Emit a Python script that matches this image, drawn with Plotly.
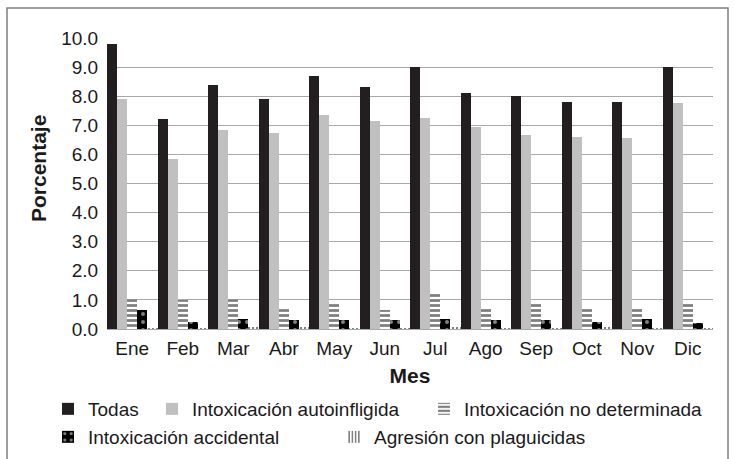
import plotly.graph_objects as go

meses = ["Ene", "Feb", "Mar", "Abr", "May", "Jun", "Jul", "Ago", "Sep", "Oct", "Nov", "Dic"]
todas = [9.8, 7.2, 8.4, 7.9, 8.7, 8.3, 9.0, 8.1, 8.0, 7.8, 7.8, 9.0]
autoinfligida = [7.9, 5.85, 6.85, 6.75, 7.35, 7.15, 7.25, 6.95, 6.65, 6.6, 6.55, 7.75]
no_determinada = [1.05, 1.0, 1.05, 0.7, 0.85, 0.65, 1.2, 0.7, 0.85, 0.7, 0.7, 0.85]
accidental = [0.65, 0.25, 0.35, 0.3, 0.3, 0.3, 0.35, 0.3, 0.3, 0.25, 0.35, 0.2]
agresion = [0.02, 0.01, 0.05, 0.05, 0.02, 0.02, 0.05, 0.02, 0.02, 0.05, 0.02, 0.02]
y_ticks = [0, 1, 2, 3, 4, 5, 6, 7, 8, 9, 10]

FONT = "Liberation Sans, Arial, sans-serif"
TXT = "#1a1a1a"
W, H = 735, 459
L, R, T, B = 107, 22, 38, 130
pw, ph = W - L - R, H - T - B

def px_x(x):
    return (x - L) / pw

def px_y(y):
    return (H - B - y) / ph

fig = go.Figure()
fig.add_trace(go.Bar(x=meses, y=todas, name="Todas", legend="legend",
                     marker=dict(color="#231f20", line=dict(width=0))))
fig.add_trace(go.Bar(x=meses, y=autoinfligida, name="Intoxicación autoinfligida", legend="legend2",
                     marker=dict(color="#c0c0c0", line=dict(width=0))))
fig.add_trace(go.Bar(x=meses, y=no_determinada, name="Intoxicación no determinada", legend="legend3",
                     marker=dict(color="white", line=dict(width=0),
                                 pattern=dict(shape="-", fgcolor="black", bgcolor="white",
                                              size=5, solidity=0.55))))
fig.add_trace(go.Bar(x=meses, y=accidental, name="Intoxicación accidental", legend="legend4",
                     marker=dict(color="black", line=dict(width=0),
                                 pattern=dict(shape=".", fgcolor="white", bgcolor="black",
                                              size=8, solidity=0.2))))
fig.add_trace(go.Bar(x=meses, y=agresion, name="Agresión con plaguicidas", legend="legend5",
                     marker=dict(color="white", line=dict(width=0),
                                 pattern=dict(shape="|", fgcolor="black", bgcolor="white",
                                              size=4, solidity=0.5))))

row1, row2 = 409, 437
leg_common = dict(font=dict(family=FONT, size=19, color=TXT), bgcolor="rgba(0,0,0,0)",
                  yanchor="middle", xanchor="left", borderwidth=0, orientation="h")

fig.update_layout(
    width=W, height=H,
    margin=dict(l=L, r=R, t=T, b=B, autoexpand=False),
    paper_bgcolor="white", plot_bgcolor="white",
    barmode="group", bargap=0, bargroupgap=0,
    showlegend=True,
    font=dict(family=FONT, size=19, color=TXT),
    legend=dict(x=px_x(48), y=px_y(row1), **leg_common),
    legend2=dict(x=px_x(152), y=px_y(row1), **leg_common),
    legend3=dict(x=px_x(424), y=px_y(row1), **leg_common),
    legend4=dict(x=px_x(48), y=px_y(row2), **leg_common),
    legend5=dict(x=px_x(334), y=px_y(row2), **leg_common),
    xaxis=dict(showgrid=False, showline=False, zeroline=False, automargin=False,
               ticks="outside", ticklen=2, tickcolor="rgba(0,0,0,0)",
               tickfont=dict(family=FONT, size=19, color=TXT),
               title=dict(text="<b>Mes</b>", font=dict(family=FONT, size=21, color=TXT), standoff=10)),
    yaxis=dict(range=[0, 10], tickvals=y_ticks, tickformat=".1f", automargin=False,
               showgrid=True, gridcolor="#a8a8a8", gridwidth=1,
               zeroline=True, zerolinecolor="#a8a8a8", zerolinewidth=1,
               showline=False, ticks="outside", ticklen=4, tickcolor="rgba(0,0,0,0)",
               tickfont=dict(family=FONT, size=19, color=TXT)),
    annotations=[dict(text="<b>Porcentaje</b>", xref="paper", yref="paper",
                      x=px_x(38), y=px_y(169), xanchor="center", yanchor="middle",
                      textangle=-90, showarrow=False,
                      font=dict(family=FONT, size=21, color=TXT))],
    shapes=[dict(type="rect", xref="paper", yref="paper",
                 x0=px_x(7), x1=px_x(728), y0=px_y(475), y1=px_y(8),
                 line=dict(color="#7f7f7f", width=1.5), fillcolor="rgba(0,0,0,0)", layer="below")],
)

fig.write_html("out.html", config={"displayModeBar": False},
               post_script="document.body.style.margin='0';document.body.style.overflow='hidden';")
